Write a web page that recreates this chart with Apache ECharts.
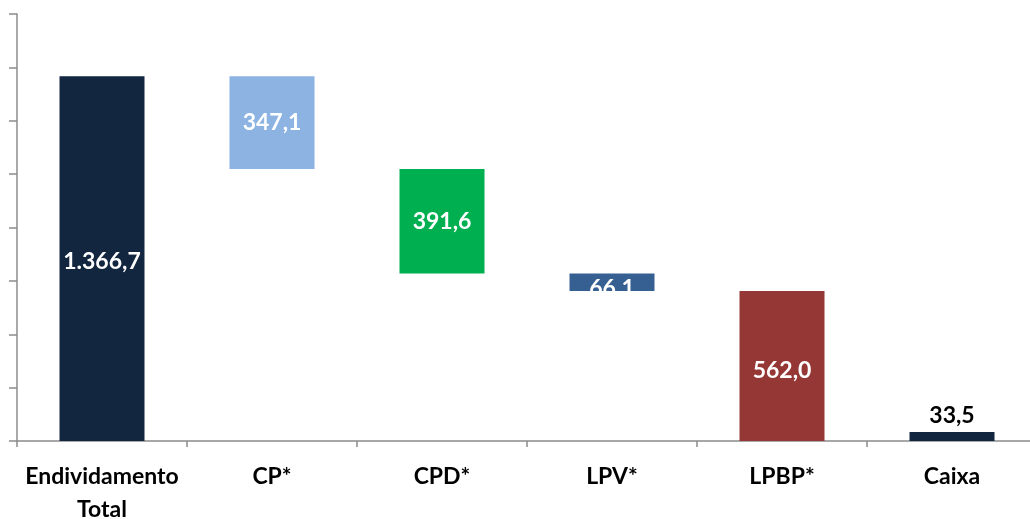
<!DOCTYPE html>
<html>
<head>
<meta charset="utf-8">
<script src="https://cdn.jsdelivr.net/npm/echarts@6/dist/echarts.min.js"></script>
<style>
  html, body { margin: 0; padding: 0; background: #fff; }
  #chart { width: 1030px; height: 519px; }
</style>
</head>
<body>
<div id="chart"></div>
<script>
// categorias e valores
const categories = ['Endividamento\nTotal', 'CP*', 'CPD*', 'LPV*', 'LPBP*', 'Caixa'];
const values = [1366.7, 347.1, 391.6, 66.1, 562.0, 33.5];
const labels = ['1.366,7', '347,1', '391,6', '66.1', '562,0', '33,5'];
const colors = ['#12263f', '#8db3e2', '#00b050', '#376092', '#953735', '#12263f'];
// barras que partem do zero (totais)
const isTotal = [true, false, false, false, false, true];

// base invisível da cascata
const bases = [];
let level = 0;
values.forEach((v, i) => {
    if (isTotal[i]) {
        bases.push(0);
        level = v;
    } else {
        level = level - v;
        bases.push(Math.max(0, level));
    }
});

const chart = echarts.init(document.getElementById('chart'));

const option = {
    animation: false,
    grid: { left: 17, right: -7, top: 14, bottom: 78, outerBoundsMode: 'none', containLabel: false },
    xAxis: {
        type: 'category',
        data: categories,
        axisLine: { lineStyle: { color: '#8c8c8c', width: 1.5 } },
        axisTick: { show: true, interval: 0, length: 6, lineStyle: { color: '#8c8c8c', width: 1.5 } },
        axisLabel: {
            interval: 0,
            color: '#000', fontFamily: 'Lato', fontWeight: 'bold', fontSize: 23,
            lineHeight: 33, margin: 19
        }
    },
    yAxis: {
        type: 'value',
        min: 0, max: 1600, interval: 200,
        axisLine: { show: true, lineStyle: { color: '#8c8c8c', width: 1.5 } },
        axisTick: { show: true, inside: false, length: 8, lineStyle: { color: '#8c8c8c', width: 1.5 } },
        axisLabel: { show: false },
        splitLine: { show: false }
    },
    series: [
        {
            type: 'bar',
            stack: 'w',
            data: bases,
            itemStyle: { color: 'transparent' },
            barWidth: '50%',
            silent: true
        },
        {
            type: 'bar',
            stack: 'w',
            barWidth: '50%',
            data: values.map((v, i) => {
                const item = {
                    value: v,
                    itemStyle: { color: colors[i] },
                    label: {
                        show: true,
                        position: 'inside',
                        formatter: labels[i],
                        color: '#fff',
                        fontFamily: 'Lato',
                        fontWeight: 'bold',
                        fontSize: 23
                    }
                };
                if (i === 3) item.label.offset = [0, 6];
                if (i === 4) item.label.offset = [0, 5];
                if (i === 0) item.label.offset = [0, 3];
                if (i === 5) {
                    item.label.position = 'top';
                    item.label.color = '#000';
                    item.label.distance = 5;
                }
                return item;
            })
        }
    ]
};

chart.setOption(option);
</script>
</body>
</html>
